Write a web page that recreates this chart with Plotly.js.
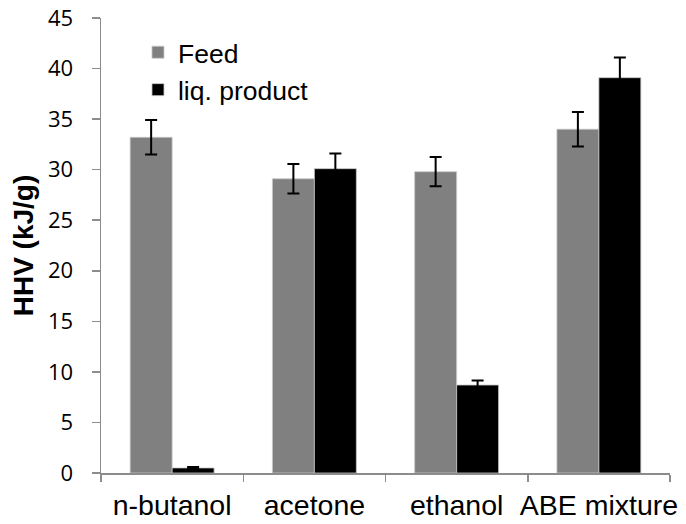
<!DOCTYPE html>
<html>
<head>
<meta charset="utf-8">
<script src="https://cdn.plot.ly/plotly-3.0.1.min.js"></script>
<style>html,body{margin:0;padding:0;background:#fff;}#chart{width:686px;height:524px;}</style>
</head>
<body>
<div id="chart"></div>
<script>
const categories = ["n-butanol", "acetone", "ethanol", "ABE mixture"];
const feedValues = [33.2, 29.1, 29.8, 34.0];
const feedErrors = [1.7, 1.45, 1.45, 1.7];
const liqValues = [0.5, 30.1, 8.7, 39.1];
const liqErrors = [0.1, 1.5, 0.45, 2.0];
const yTicks = [0, 5, 10, 15, 20, 25, 30, 35, 40, 45];

const errStyle = {type: 'data', visible: true, color: '#000', thickness: 2, width: 6};

const traces = [
  {
    type: 'bar', name: 'Feed', x: categories, y: feedValues,
    error_y: Object.assign({array: feedErrors}, errStyle),
    marker: {color: '#808080', line: {color: '#c8c8c8', width: 0.8}}
  },
  {
    type: 'bar', name: 'liq. product', x: categories, y: liqValues,
    error_y: Object.assign({array: liqErrors}, errStyle),
    marker: {color: '#000000', line: {color: '#c8c8c8', width: 0.8}}
  }
];

const layout = {
  width: 686, height: 524,
  margin: {l: 101, r: 16, t: 18, b: 51},
  paper_bgcolor: '#fff', plot_bgcolor: '#fff',
  barmode: 'group', bargap: 0.41, bargroupgap: 0,
  showlegend: true,
  legend: {
    x: 0.065, y: 0.977, xanchor: 'left', yanchor: 'top',
    font: {family: 'Liberation Sans, Arial, sans-serif', size: 26.5, color: '#000'},
    bgcolor: 'rgba(0,0,0,0)', itemwidth: 30
  },
  xaxis: {
    type: 'category', range: [-0.5, 3.5],
    showline: true, linecolor: '#8c8c8c', linewidth: 1.5,
    ticks: 'outside', tickson: 'boundaries', ticklen: 7, tickcolor: '#8c8c8c', tickwidth: 1.5,
    tickangle: 0, automargin: false, ticklabeloverflow: 'allow',
    ticklabelstandoff: 6,
    tickfont: {family: 'Liberation Sans, Arial, sans-serif', size: 28.5, color: '#000'},
    showgrid: false, zeroline: false
  },
  yaxis: {
    range: [0, 45], tickvals: yTicks, ticktext: yTicks.map(String),
    showline: true, linecolor: '#8c8c8c', linewidth: 1.5,
    ticks: 'outside', ticklen: 8, tickcolor: '#8c8c8c', tickwidth: 1.5,
    ticklabelstandoff: 14, automargin: false, ticklabeloverflow: 'allow',
    tickfont: {family: 'Open Sans, sans-serif', size: 22, color: '#000'},
    showgrid: false, zeroline: false,
    title: {text: 'HHV (kJ/g)', standoff: 6, font: {family: 'Liberation Sans, Arial, sans-serif', size: 28, color: '#000', weight: 'bold'}}
  }
};

Plotly.newPlot('chart', traces, layout, {displayModeBar: false, staticPlot: true});
</script>
</body>
</html>
